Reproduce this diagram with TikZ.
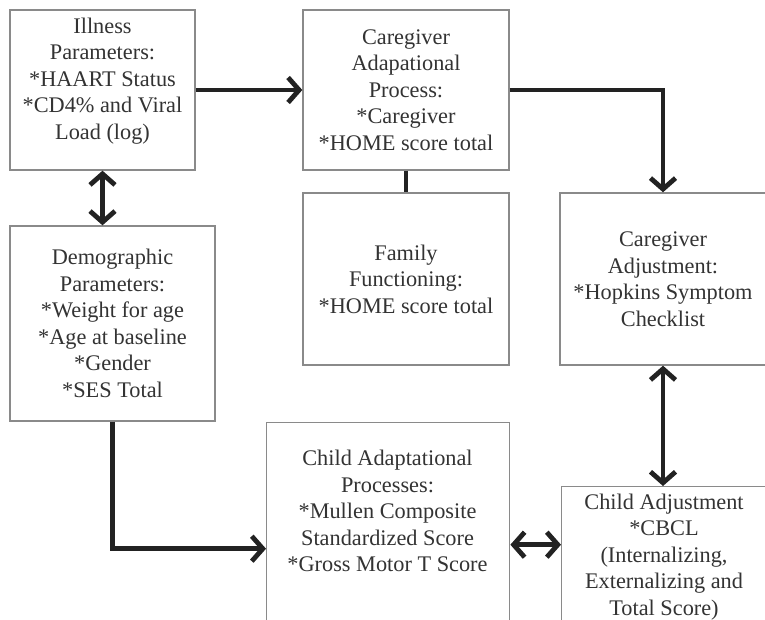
\documentclass[tikz,border=0pt]{standalone}
\usepackage{fontspec}
\setmainfont{Liberation Serif}
\usepackage{xcolor}
\usetikzlibrary{arrows.meta}
\definecolor{boxc}{HTML}{8A8A8A}
\definecolor{linec}{HTML}{222222}
\definecolor{textc}{HTML}{333333}

\tikzset{
  txt/.style={align=center, text=textc, inner sep=0pt,
    font=\fontsize{22.3}{26.5}\selectfont},
  frame/.style={draw=boxc, line width=1.4pt, fill=white, inner sep=0pt, txt},
  link/.style={draw=linec, line width=4.8pt},
  tip/.tip={Straight Barb[length=11pt,width=25pt]},
  arr/.style={link, -tip},
  biarr/.style={link, tip-tip}
}

\begin{document}
\begin{tikzpicture}[x=1pt,y=-1pt]
  \useasboundingbox (0,0) rectangle (765,620);
  \fill[white] (0,0) rectangle (765,620);

  % ============================================================
  %                       TOP ROW
  % ============================================================
  \node[frame, minimum width=185pt, minimum height=160pt] (ill) at (102.5,90) {};
  \node[txt] (illText) at (102.5,81)
    {Illness\\Parameters:\\*HAART Status\\*CD4\% and Viral\\Load (log)};
  \node[frame, minimum width=206pt, minimum height=160pt] (cap) at (406,90)
    {Caregiver\\Adapational\\Process:\\*Caregiver\\*HOME score total};

  % ============================================================
  %                       MIDDLE ROW
  % ============================================================
  \node[frame, minimum width=205pt, minimum height=195pt] (demo) at (112.5,323.5)
    {Demographic\\Parameters:\\*Weight for age\\*Age at baseline\\*Gender\\*SES Total};
  \node[frame, minimum width=206pt, minimum height=172pt] (fam) at (406,279)
    {Family\\Functioning:\\*HOME score total};
  \node[frame, minimum width=206pt, minimum height=172pt] (cgadj) at (663,279)
    {Caregiver\\Adjustment:\\*Hopkins Symptom\\Checklist};

  % ============================================================
  %                       BOTTOM ROW (cut at the page edge)
  % ============================================================
  \node[frame, anchor=north west, minimum width=243pt, minimum height=220pt] (cadp) at (266,422) {};
  \node[txt] (cadpText) at (387.5,511)
    {Child Adaptational\\Processes:\\*Mullen Composite\\Standardized Score\\*Gross Motor T Score};
  \node[frame, anchor=north west, minimum width=206pt, minimum height=160pt] (chadj) at (561,486) {};
  \node[txt] (chadjText) at (664,557)
    {Child Adjustment\\*CBCL\\(Internalizing,\\Externalizing and\\Total Score)};

  % ============================================================
  %                       CONNECTORS
  % ============================================================
  \draw[arr] (ill.east) -- (cap.west);
  \draw[arr] (cap.east) -| (cgadj.north);
  \draw[link] (cap.south) -- (fam.north);
  \draw[biarr] (ill.south) -- (ill.south |- demo.north);
  \draw[arr] (demo.south) |- ([yshift=-16pt]cadp.west);
  \draw[biarr] ([yshift=-12pt]cadp.east) -- ([yshift=-12pt]cadp.east -| chadj.west);
  \draw[biarr] (cgadj.south) -- (cgadj.south |- chadj.north);

\end{tikzpicture}
\end{document}
